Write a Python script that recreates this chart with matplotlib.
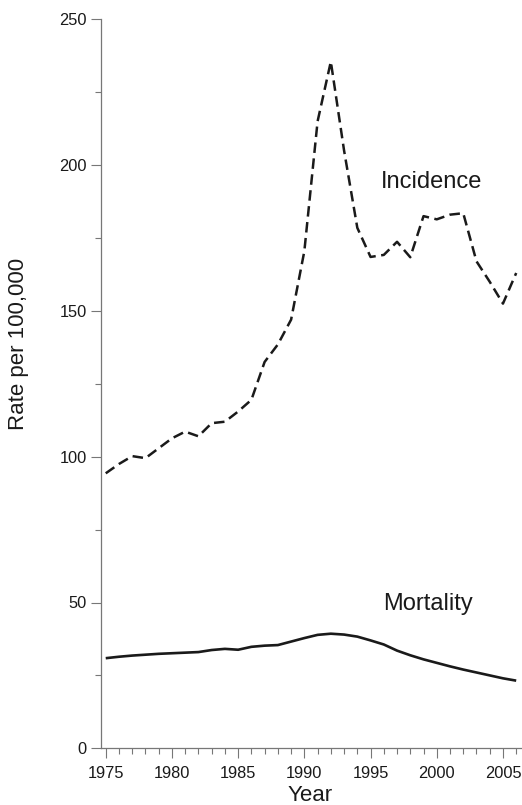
import matplotlib
matplotlib.use("Agg")
import matplotlib.pyplot as plt
from matplotlib.ticker import MultipleLocator

years = list(range(1975, 2007))
incidence = [94.3, 97.5, 100.2, 99.5, 102.9, 106.3, 108.6, 107.0, 111.5, 112.0,
             115.5, 119.5, 132.5, 138.5, 147.0, 170.5, 215.0, 235.5, 205.0, 178.5,
             168.5, 169.2, 173.7, 168.4, 182.5, 181.4, 183.0, 183.5, 167.0, 160.0,
             152.5, 163.0]
mortality = [30.9, 31.4, 31.8, 32.1, 32.4, 32.6, 32.8, 33.0, 33.7, 34.1,
             33.8, 34.8, 35.2, 35.4, 36.6, 37.8, 38.9, 39.3, 39.0, 38.3,
             37.0, 35.6, 33.5, 31.9, 30.5, 29.3, 28.1, 27.0, 26.0, 25.0,
             24.0, 23.2]
x_major = [1975, 1980, 1985, 1990, 1995, 2000, 2005]
y_major = [0, 50, 100, 150, 200, 250]

W, H = 522, 805
fig = plt.figure(figsize=(W / 100, H / 100), dpi=100)
ax = fig.add_axes([100.7 / W, 1 - 748.3 / H, (521.5 - 100.7) / W, (748.3 - 19.3) / H])

ink = "#1a1a1a"
ax.plot(years, incidence, color=ink, lw=1.8, linestyle=(0, (4.2, 2.2)))
ax.plot(years, mortality, color=ink, lw=1.9, solid_joinstyle="round", solid_capstyle="butt")

ax.set_xlim(1974.62, 2006.4)
ax.set_ylim(0, 250)

for s in ["top", "right"]:
    ax.spines[s].set_visible(False)
spc = "#777777"
for s in ["left", "bottom"]:
    ax.spines[s].set_color(spc)
    ax.spines[s].set_linewidth(0.9)

ax.set_xticks(x_major)
ax.xaxis.set_minor_locator(MultipleLocator(1))
ax.set_yticks(y_major)
ax.yaxis.set_minor_locator(MultipleLocator(25))

tfont = ["Liberation Sans"]
ax.tick_params(axis="both", which="major", length=7.5, width=0.8, color=spc,
               labelsize=11.8, labelcolor=ink)
ax.tick_params(axis="both", which="minor", length=4, width=0.8, color=spc)
ax.tick_params(axis="x", which="major", pad=5)
ax.tick_params(axis="y", which="major", pad=2.4)
for lab in ax.get_xticklabels() + ax.get_yticklabels():
    lab.set_family(tfont)

lfont = ["Liberation Sans"]
ax.text(1995.75, 192.0, "Incidence", fontsize=17, family=lfont, color=ink,
        ha="left", va="baseline")
ax.text(1995.95, 47.4, "Mortality", fontsize=17, family=lfont, color=ink,
        ha="left", va="baseline")

fig.text(18.3 / W, 1 - 344 / H, "Rate per 100,000", rotation=90, fontsize=16,
         family=lfont, color=ink, ha="center", va="center")
fig.text(310.5 / W, 4.0 / H, "Year", fontsize=16, family=lfont, color=ink,
         ha="center", va="baseline")

fig.savefig("out.png", dpi=100)
